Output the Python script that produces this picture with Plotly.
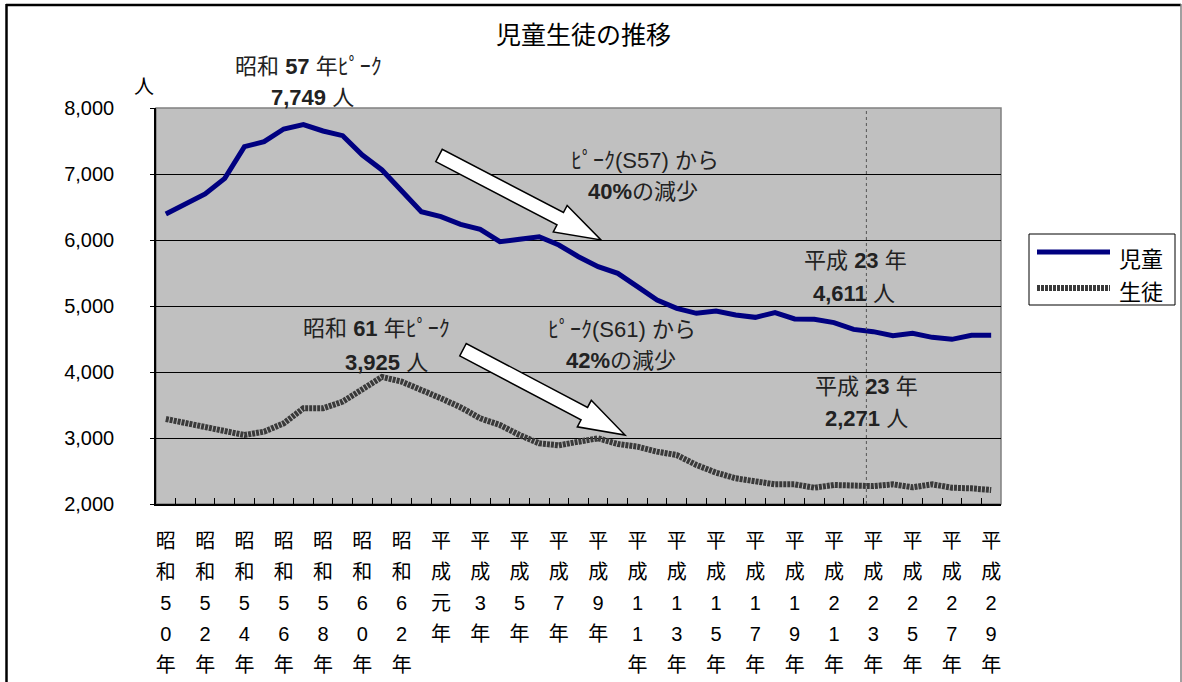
import math
import plotly.graph_objects as go

# ---------------- data ----------------
years = list(range(1975, 2018))
jido = [6394, 6541, 6697, 6934, 7414, 7490, 7682, 7749, 7652, 7581,
        7288, 7061, 6732, 6429, 6353, 6237, 6162, 5975, 6010, 6050,
        5924, 5747, 5596, 5495, 5293, 5091, 4965, 4889, 4924, 4864,
        4828, 4899, 4803, 4798, 4748, 4646, 4611, 4550, 4586, 4525,
        4495, 4556, 4556]
seito = [3288, 3232, 3172, 3106, 3045, 3096, 3222, 3449, 3449, 3551,
         3727, 3925, 3854, 3737, 3601, 3465, 3298, 3197, 3045, 2919,
         2889, 2944, 2995, 2909, 2869, 2793, 2742, 2591, 2475, 2389,
         2354, 2298, 2298, 2247, 2288, 2280, 2271, 2298, 2253, 2298,
         2247, 2237, 2212]
tick_years = list(range(1975, 2018, 2))
tick_names = ["昭和50年", "昭和52年", "昭和54年", "昭和56年", "昭和58年", "昭和60年",
              "昭和62年", "平成元年", "平成3年", "平成5年", "平成7年", "平成9年",
              "平成11年", "平成13年", "平成15年", "平成17年", "平成19年", "平成21年",
              "平成23年", "平成25年", "平成27年", "平成29年"]
y_ticks = [2000, 3000, 4000, 5000, 6000, 7000, 8000]
series_names = ["児童", "生徒"]

# ---------------- layout geometry (pixels) ----------------
W, H = 1182, 682
PL, PT, PR, PB = 156, 108, 1001, 504


def px(x):
    return (x - PL) / (PR - PL)


def py(y):
    return (PB - y) / (PB - PT)


JP = "Noto Sans CJK JP"
NUM = "Liberation Sans, Noto Sans CJK JP"
BLUE = "#000080"
GRAY = "#3a3a3a"


def vlabel(s):
    return "<br>".join('<span style="font-size:20px">%s</span>' % c for c in s)


fig = go.Figure()
fig.add_trace(go.Scatter(x=years, y=jido, mode="lines", name=series_names[0],
                         line=dict(color=BLUE, width=5), showlegend=False))
fig.add_trace(go.Scatter(x=years, y=seito, mode="lines", name=series_names[1],
                         line=dict(color=GRAY, width=6, dash="3px,1px"), showlegend=False))

shapes = []
shapes.append(dict(type="rect", xref="paper", yref="paper", x0=0, x1=1, y0=0, y1=1,
                   line=dict(color="#808080", width=1.5), layer="below"))
shapes.append(dict(type="line", xref="x", yref="paper", x0=2011 - 0.35, x1=2011 - 0.35,
                   y0=0, y1=1, line=dict(color="#555555", width=1, dash="dot")))
shapes.append(dict(type="line", xref="paper", yref="paper", x0=px(6), x1=px(1181),
                   y0=py(5), y1=py(5), line=dict(color="black", width=2.5)))
shapes.append(dict(type="line", xref="paper", yref="paper", x0=px(6.5), x1=px(6.5),
                   y0=py(4), y1=py(700), line=dict(color="black", width=2.5)))
shapes.append(dict(type="line", xref="paper", yref="paper", x0=px(1181), x1=px(1181),
                   y0=py(4), y1=py(700), line=dict(color="#808080", width=1.5)))


def block_arrow(tail, tip, sw=14, hw=30, hl=46):
    dx, dy = tip[0] - tail[0], tip[1] - tail[1]
    L = math.hypot(dx, dy)
    ux, uy = dx / L, dy / L
    nx, ny = -uy, ux
    bx, by = tip[0] - ux * hl, tip[1] - uy * hl
    pts = [(tail[0] + nx * sw / 2, tail[1] + ny * sw / 2),
           (bx + nx * sw / 2, by + ny * sw / 2),
           (bx + nx * hw / 2, by + ny * hw / 2),
           tip,
           (bx - nx * hw / 2, by - ny * hw / 2),
           (bx - nx * sw / 2, by - ny * sw / 2),
           (tail[0] - nx * sw / 2, tail[1] - ny * sw / 2)]
    path = "M " + " L ".join("%.5f,%.5f" % (px(a), py(b)) for a, b in pts) + " Z"
    return dict(type="path", xref="paper", yref="paper", path=path,
                fillcolor="white", line=dict(color="black", width=1.5))


shapes.append(block_arrow((439, 155.5), (601, 240)))
shapes.append(block_arrow((463, 349.7), (625, 435)))

# custom legend
shapes.append(dict(type="rect", xref="paper", yref="paper", x0=px(1029), x1=px(1175),
                   y0=py(305), y1=py(234), line=dict(color="black", width=1),
                   fillcolor="white"))
shapes.append(dict(type="line", xref="paper", yref="paper", x0=px(1037), x1=px(1110),
                   y0=py(252), y1=py(252), line=dict(color=BLUE, width=5)))
shapes.append(dict(type="line", xref="paper", yref="paper", x0=px(1037), x1=px(1110),
                   y0=py(288), y1=py(288), line=dict(color=GRAY, width=6, dash="3px,1px")))

annotations = []


def txt(s, x, y, size=22, color="#222222", family=NUM):
    annotations.append(dict(text=s, xref="paper", yref="paper", x=px(x), y=py(y),
                            xanchor="center", yanchor="middle", showarrow=False,
                            font=dict(size=size, color=color, family=family)))


txt("児童生徒の推移", 583, 33, size=25, color="black", family=JP)
txt("人", 144, 86, size=20, color="black", family=JP)
txt(series_names[0], 1141, 257, size=22, color="black", family=JP)
txt(series_names[1], 1141, 290, size=22, color="black", family=JP)

txt("昭和 <b>57</b> 年ﾋﾟｰｸ", 308, 66)
txt("<b>7,749</b> 人", 312, 97)
txt("ﾋﾟｰｸ(S57) から", 645, 160)
txt("<b>40%</b>の減少", 643, 191)
txt("昭和 <b>61</b> 年ﾋﾟｰｸ", 376, 328)
txt("<b>3,925</b> 人", 386, 362)
txt("ﾋﾟｰｸ(S61) から", 622, 329)
txt("<b>42%</b>の減少", 621, 360)
txt("平成 <b>23</b> 年", 855, 260)
txt("<b>4,611</b> 人", 854, 293)
txt("平成 <b>23</b> 年", 866, 386)
txt("<b>2,271</b> 人", 866, 418)

fig.update_layout(
    width=W, height=H,
    margin=dict(l=PL, r=W - PR, t=PT, b=H - PB, pad=0, autoexpand=False),
    paper_bgcolor="white", plot_bgcolor="#C0C0C0",
    shapes=shapes, annotations=annotations, showlegend=False,
    font=dict(family="Liberation Sans, Noto Sans CJK JP", color="black"),
)
fig.update_xaxes(
    range=[years[0] - 0.5, years[-1] + 0.5], tickmode="array",
    tickvals=tick_years, ticktext=[vlabel(s) for s in tick_names],
    tickangle=0, ticks="inside", ticklen=0, showgrid=False, zeroline=False,
    showline=True, linecolor="black", linewidth=1.5, automargin=False,
    tickfont=dict(size=24, family="Liberation Sans, Noto Sans CJK JP", color="black"),
    ticklabelstandoff=13,
    minor=dict(tickvals=[y + 0.5 for y in years[:-1]], ticks="inside", ticklen=6,
               tickcolor="black", tickwidth=1, showgrid=False),
)
fig.update_yaxes(
    range=[y_ticks[0], y_ticks[-1]], tickmode="array", tickvals=y_ticks,
    tickformat=",d", showgrid=True, gridcolor="#000000", gridwidth=1,
    zeroline=False, showline=True, linecolor="black", linewidth=1.5, automargin=False,
    ticks="outside", ticklen=4, tickcolor="black",
    tickfont=dict(size=20, family="Liberation Sans", color="black"),
    ticklabelstandoff=32,
)

fig.write_html("out.html")
